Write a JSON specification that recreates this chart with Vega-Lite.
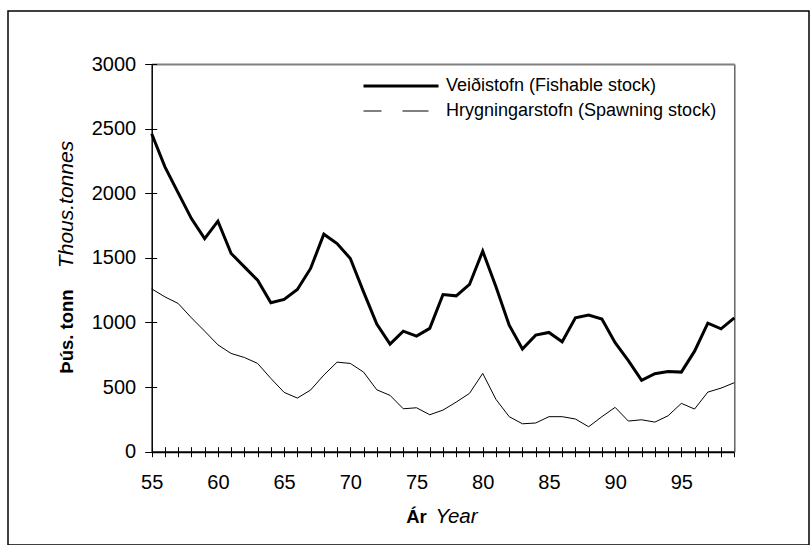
{
  "$schema": "https://vega.github.io/schema/vega-lite/v6.json",
  "width": 801,
  "height": 534,
  "autosize": {"type": "none"},
  "padding": {"left": 8, "top": 11, "right": 2, "bottom": 0},
  "background": "white",
  "config": {
    "view": {"stroke": "black", "strokeWidth": 1.5},
    "font": "Liberation Sans",
    "axis": {"grid": false, "labelFont": "Liberation Sans", "titleFont": "Liberation Sans", "labelColor": "black", "titleColor": "black", "tickColor": "black", "domainColor": "black"}
  },
  "datasets": {
    "stock": [
      {"year":55,"series":"Veiðistofn (Fishable stock)","value":2460},
      {"year":56,"series":"Veiðistofn (Fishable stock)","value":2204},
      {"year":57,"series":"Veiðistofn (Fishable stock)","value":2003},
      {"year":58,"series":"Veiðistofn (Fishable stock)","value":1804},
      {"year":59,"series":"Veiðistofn (Fishable stock)","value":1649},
      {"year":60,"series":"Veiðistofn (Fishable stock)","value":1784},
      {"year":61,"series":"Veiðistofn (Fishable stock)","value":1534},
      {"year":62,"series":"Veiðistofn (Fishable stock)","value":1430},
      {"year":63,"series":"Veiðistofn (Fishable stock)","value":1327},
      {"year":64,"series":"Veiðistofn (Fishable stock)","value":1152},
      {"year":65,"series":"Veiðistofn (Fishable stock)","value":1178},
      {"year":66,"series":"Veiðistofn (Fishable stock)","value":1255},
      {"year":67,"series":"Veiðistofn (Fishable stock)","value":1418},
      {"year":68,"series":"Veiðistofn (Fishable stock)","value":1683},
      {"year":69,"series":"Veiðistofn (Fishable stock)","value":1611},
      {"year":70,"series":"Veiðistofn (Fishable stock)","value":1495},
      {"year":71,"series":"Veiðistofn (Fishable stock)","value":1237},
      {"year":72,"series":"Veiðistofn (Fishable stock)","value":987},
      {"year":73,"series":"Veiðistofn (Fishable stock)","value":832},
      {"year":74,"series":"Veiðistofn (Fishable stock)","value":933},
      {"year":75,"series":"Veiðistofn (Fishable stock)","value":894},
      {"year":76,"series":"Veiðistofn (Fishable stock)","value":954},
      {"year":77,"series":"Veiðistofn (Fishable stock)","value":1216},
      {"year":78,"series":"Veiðistofn (Fishable stock)","value":1206},
      {"year":79,"series":"Veiðistofn (Fishable stock)","value":1294},
      {"year":80,"series":"Veiðistofn (Fishable stock)","value":1552},
      {"year":81,"series":"Veiðistofn (Fishable stock)","value":1276},
      {"year":82,"series":"Veiðistofn (Fishable stock)","value":979},
      {"year":83,"series":"Veiðistofn (Fishable stock)","value":794},
      {"year":84,"series":"Veiðistofn (Fishable stock)","value":902},
      {"year":85,"series":"Veiðistofn (Fishable stock)","value":923},
      {"year":86,"series":"Veiðistofn (Fishable stock)","value":851},
      {"year":87,"series":"Veiðistofn (Fishable stock)","value":1036},
      {"year":88,"series":"Veiðistofn (Fishable stock)","value":1057},
      {"year":89,"series":"Veiðistofn (Fishable stock)","value":1026},
      {"year":90,"series":"Veiðistofn (Fishable stock)","value":843},
      {"year":91,"series":"Veiðistofn (Fishable stock)","value":704},
      {"year":92,"series":"Veiðistofn (Fishable stock)","value":552},
      {"year":93,"series":"Veiðistofn (Fishable stock)","value":603},
      {"year":94,"series":"Veiðistofn (Fishable stock)","value":621},
      {"year":95,"series":"Veiðistofn (Fishable stock)","value":616},
      {"year":96,"series":"Veiðistofn (Fishable stock)","value":778},
      {"year":97,"series":"Veiðistofn (Fishable stock)","value":995},
      {"year":98,"series":"Veiðistofn (Fishable stock)","value":951},
      {"year":99,"series":"Veiðistofn (Fishable stock)","value":1036},
      {"year":55,"series":"Hrygningarstofn (Spawning stock)","value":1260},
      {"year":56,"series":"Hrygningarstofn (Spawning stock)","value":1198},
      {"year":57,"series":"Hrygningarstofn (Spawning stock)","value":1147},
      {"year":58,"series":"Hrygningarstofn (Spawning stock)","value":1036},
      {"year":59,"series":"Hrygningarstofn (Spawning stock)","value":933},
      {"year":60,"series":"Hrygningarstofn (Spawning stock)","value":827},
      {"year":61,"series":"Hrygningarstofn (Spawning stock)","value":760},
      {"year":62,"series":"Hrygningarstofn (Spawning stock)","value":729},
      {"year":63,"series":"Hrygningarstofn (Spawning stock)","value":683},
      {"year":64,"series":"Hrygningarstofn (Spawning stock)","value":567},
      {"year":65,"series":"Hrygningarstofn (Spawning stock)","value":459},
      {"year":66,"series":"Hrygningarstofn (Spawning stock)","value":415},
      {"year":67,"series":"Hrygningarstofn (Spawning stock)","value":477},
      {"year":68,"series":"Hrygningarstofn (Spawning stock)","value":593},
      {"year":69,"series":"Hrygningarstofn (Spawning stock)","value":693},
      {"year":70,"series":"Hrygningarstofn (Spawning stock)","value":683},
      {"year":71,"series":"Hrygningarstofn (Spawning stock)","value":616},
      {"year":72,"series":"Hrygningarstofn (Spawning stock)","value":479},
      {"year":73,"series":"Hrygningarstofn (Spawning stock)","value":436},
      {"year":74,"series":"Hrygningarstofn (Spawning stock)","value":332},
      {"year":75,"series":"Hrygningarstofn (Spawning stock)","value":340},
      {"year":76,"series":"Hrygningarstofn (Spawning stock)","value":286},
      {"year":77,"series":"Hrygningarstofn (Spawning stock)","value":322},
      {"year":78,"series":"Hrygningarstofn (Spawning stock)","value":384},
      {"year":79,"series":"Hrygningarstofn (Spawning stock)","value":451},
      {"year":80,"series":"Hrygningarstofn (Spawning stock)","value":606},
      {"year":81,"series":"Hrygningarstofn (Spawning stock)","value":405},
      {"year":82,"series":"Hrygningarstofn (Spawning stock)","value":271},
      {"year":83,"series":"Hrygningarstofn (Spawning stock)","value":216},
      {"year":84,"series":"Hrygningarstofn (Spawning stock)","value":222},
      {"year":85,"series":"Hrygningarstofn (Spawning stock)","value":271},
      {"year":86,"series":"Hrygningarstofn (Spawning stock)","value":271},
      {"year":87,"series":"Hrygningarstofn (Spawning stock)","value":253},
      {"year":88,"series":"Hrygningarstofn (Spawning stock)","value":193},
      {"year":89,"series":"Hrygningarstofn (Spawning stock)","value":271},
      {"year":90,"series":"Hrygningarstofn (Spawning stock)","value":343},
      {"year":91,"series":"Hrygningarstofn (Spawning stock)","value":237},
      {"year":92,"series":"Hrygningarstofn (Spawning stock)","value":247},
      {"year":93,"series":"Hrygningarstofn (Spawning stock)","value":229},
      {"year":94,"series":"Hrygningarstofn (Spawning stock)","value":278},
      {"year":95,"series":"Hrygningarstofn (Spawning stock)","value":374},
      {"year":96,"series":"Hrygningarstofn (Spawning stock)","value":330},
      {"year":97,"series":"Hrygningarstofn (Spawning stock)","value":461},
      {"year":98,"series":"Hrygningarstofn (Spawning stock)","value":492},
      {"year":99,"series":"Hrygningarstofn (Spawning stock)","value":534}
    ]
  },
  "data": {"name": "stock"},
  "layer": [
    {
      "mark": {"type": "line", "color": "black"},
      "encoding": {
        "x": {"field": "year", "type": "quantitative",
          "scale": {"domain": [55, 99], "range": [143.7, 726.3], "nice": false, "zero": false},
          "axis": {"orient": "bottom", "offset": -93.3,
            "values": [55,56,57,58,59,60,61,62,63,64,65,66,67,68,69,70,71,72,73,74,75,76,77,78,79,80,81,82,83,84,85,86,87,88,89,90,91,92,93,94,95,96,97,98,99],
            "labelExpr": "datum.value % 5 === 0 ? datum.label : ''",
            "tickSize": 5, "tickWidth": 1, "domainWidth": 2,
            "labelFontSize": 20, "labelPadding": 32, "labelBaseline": "alphabetic", "labelFlush": false, "labelOverlap": false,
            "title": "Ár", "titleFontWeight": "bold", "titleFontSize": 18.5,
            "titleX": 408, "titleY": 71, "titleAlign": "center", "titleBaseline": "alphabetic"}},
        "y": {"field": "value", "type": "quantitative",
          "scale": {"domain": [0, 3000], "range": [440.7, 53], "nice": false, "zero": true},
          "axis": {"orient": "left", "offset": -143.7,
            "values": [0, 500, 1000, 1500, 2000, 2500, 3000], "format": "d",
            "tickSize": 7, "tickWidth": 1, "domainWidth": 1.5,
            "labelFontSize": 20, "labelPadding": 9,
            "title": "Þús. tonn", "titleFontWeight": "bold", "titleFontSize": 18.5, "titleAngle": 270,
            "titleX": -79.7, "titleY": 320, "titleAlign": "center", "titleBaseline": "alphabetic"}},
        "strokeWidth": {"field": "series", "type": "nominal",
          "scale": {"domain": ["Veiðistofn (Fishable stock)", "Hrygningarstofn (Spawning stock)"], "range": [3, 1]},
          "legend": {"orient": "none", "legendX": 354, "legendY": 63.5, "title": null,
            "symbolType": "stroke", "symbolSize": 5625, "symbolStrokeColor": "black",
            "labelFontSize": 18, "labelFont": "Liberation Sans", "labelColor": "black",
            "labelOffset": 6, "clipHeight": 23, "rowPadding": 2, "padding": 0, "labelLimit": 400,
            "encode": {"symbols": {"update": {"strokeDash": {"signal": "datum.value === 'Hrygningarstofn (Spawning stock)' ? [18, 21, 26, 50] : null"}}}}}}
      }
    },
    {
      "mark": {"type": "point", "opacity": 0},
      "encoding": {
        "x": {"field": "year", "type": "quantitative",
          "scale": {"domain": [55, 99], "range": [143.7, 726.3], "nice": false, "zero": false},
          "axis": {"orient": "top", "offset": -53, "domainColor": "#808080", "domainWidth": 2, "ticks": false, "labels": false, "title": null}},
        "y": {"field": "value", "type": "quantitative",
          "scale": {"domain": [0, 3000], "range": [440.7, 53], "nice": false, "zero": true},
          "axis": {"orient": "right", "offset": -74.7, "domainColor": "#666666", "domainWidth": 1.5, "ticks": false, "labels": false, "title": null}}
      }
    },
    {
      "mark": {"type": "point", "opacity": 0},
      "encoding": {
        "x": {"field": "year", "type": "quantitative",
          "scale": {"domain": [55, 99], "range": [143.7, 726.3], "nice": false, "zero": false},
          "axis": {"orient": "bottom", "offset": -93.3,
            "values": [55,56,57,58,59,60,61,62,63,64,65,66,67,68,69,70,71,72,73,74,75,76,77,78,79,80,81,82,83,84,85,86,87,88,89,90,91,92,93,94,95,96,97,98,99],
            "tickSize": -5, "tickWidth": 1, "domain": false, "labels": false,
            "title": "Year", "titleFontStyle": "italic", "titleFontWeight": "normal", "titleFontSize": 20.5,
            "titleX": 448, "titleY": 71, "titleAlign": "center", "titleBaseline": "alphabetic"}},
        "y": {"field": "value", "type": "quantitative",
          "scale": {"domain": [0, 3000], "range": [440.7, 53], "nice": false, "zero": true},
          "axis": {"orient": "left", "offset": -143.7,
            "values": [0, 500, 1000, 1500, 2000, 2500, 3000],
            "tickSize": -5, "tickWidth": 1, "domain": false, "labels": false,
            "title": "Thous.tonnes", "titleFontStyle": "italic", "titleFontWeight": "normal", "titleFontSize": 21, "titleAngle": 270,
            "titleX": -79.7, "titleY": 193, "titleAlign": "center", "titleBaseline": "alphabetic"}}
      }
    }
  ],
  "resolve": {"axis": {"x": "independent", "y": "independent"}}
}
